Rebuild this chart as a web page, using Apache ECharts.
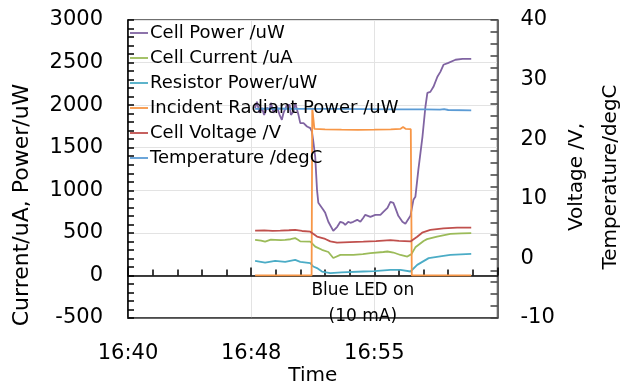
<!DOCTYPE html>
<html>
<head>
<meta charset="UTF-8">
<title>Cell power vs LED</title>
<script src="https://cdn.jsdelivr.net/npm/echarts@6/dist/echarts.min.js"></script>
<style>
  html, body { margin: 0; padding: 0; background: #fff; }
</style>
</head>
<body>
<div id="main" style="width: 622px;height:383px;"></div>
<script type="text/javascript">
// time = minutes after 16:00
var seriesNames = ['Cell Power /uW', 'Cell Current /uA', 'Resistor Power/uW',
  'Incident Radiant Power /uW', 'Cell Voltage /V', 'Temperature /degC'];

var cellPower = [[48.24,1965],[48.35,2040],[48.51,1910],[48.65,1969],[48.79,1886],[48.96,1969],
  [49.12,1945],[49.20,2027],[49.36,1910],[49.57,1984],[49.73,1886],[49.87,1828],[49.97,1910],
  [50.18,2004],[50.34,2004],[50.42,1886],[50.58,1925],[50.68,2024],[50.79,2004],[50.88,1886],
  [50.99,1789],[51.19,1789],[51.40,1749],[51.60,1730],[51.70,1690],[51.78,1581],[51.90,1393],
  [52.01,1005],[52.09,853],[52.21,830],[52.39,771],[52.51,735],[52.70,630],[53.00,524],
  [53.24,571],[53.43,630],[53.61,618],[53.73,594],[53.91,630],[54.04,618],[54.22,630],
  [54.46,653],[54.65,630],[54.83,677],[54.95,712],[55.26,688],[55.56,712],[55.87,712],
  [56.05,747],[56.30,794],[56.48,864],[56.66,853],[56.78,794],[56.96,700],[57.21,630],
  [57.39,606],[57.51,618],[57.70,700],[57.88,888],[58.00,923],[58.18,1240],[58.43,1628],
  [58.61,1981],[58.73,2145],[58.91,2156],[59.10,2215],[59.34,2333],[59.52,2391],[59.71,2474],
  [60.01,2497],[60.44,2533],[60.87,2544],[61.40,2544]];

var cellCurrent = [[48.24,418],[48.6,410],[48.85,398],[49.2,420],[49.46,418],[49.8,415],
  [50.07,418],[50.4,425],[50.68,438],[50.85,420],[50.99,400],[51.60,398],[51.90,339],
  [52.31,301],[52.70,275],[53.00,205],[53.43,242],[54.22,242],[54.8,250],[55.26,262],
  [56.05,275],[56.30,281],[56.66,269],[57.09,240],[57.51,222],[57.76,250],[58.00,330],
  [58.20,360],[58.50,405],[58.71,426],[59.32,457],[60.13,489],[60.80,495],[61.40,497]];

var resistorPower = [[48.24,171],[48.85,150],[49.46,171],[50.07,160],[50.68,183],[50.99,160],
  [51.60,144],[51.78,105],[52.01,86],[52.31,46],[52.82,27],[53.5,35],[54.83,46],[55.5,50],
  [56.48,66],[57.09,66],[57.70,46],[57.76,46],[58.11,124],[58.81,203],[59.71,230],
  [60.13,242],[61.40,254]];

var incidentPower = [[48.24,0],[51.68,0],[51.72,1968],[51.85,1721],[52.5,1715],[53.5,1712],
  [54.5,1710],[55.5,1712],[56.5,1716],[57.1,1722],[57.25,1742],[57.4,1722],[57.72,1718],
  [57.78,0],[61.40,0]];

var cellVoltage = [[48.24,4.65],[48.8,4.7],[49.3,4.62],[49.77,4.65],[50.3,4.72],[50.68,4.8],
  [51.1,4.6],[51.60,4.48],[52.01,3.67],[52.51,3.26],[52.82,2.85],[53.23,2.63],[54.0,2.72],
  [54.83,2.8],[55.6,2.9],[56.48,3.05],[57.0,2.95],[57.70,2.85],[58.11,3.64],[58.41,4.31],
  [58.91,4.77],[59.71,5.05],[60.54,5.15],[61.40,5.18]];

var temperature = [[48.24,25.1],[49.5,25.15],[51.0,25.1],[53.0,25.1],[55.0,25.05],[57.0,25.0],
  [58.5,25.0],[59.5,24.95],[59.75,25.05],[60.0,24.9],[61.40,24.85]];

var colors = ['#8064a2', '#9bbb59', '#4bacc6', '#f79646', '#c0504d', '#5b9bd5'];
var font = 'DejaVu Sans';

function timeLabel(v) {
  var h = 16 + Math.floor(v / 60);
  var m = Math.floor(v % 60);
  return h + ':' + (m < 10 ? '0' + m : m);
}
function plain(v) { return String(v); }

var myChart = echarts.init(document.getElementById('main'));

function lineSeries(i, data, yIdx) {
  return {
    name: seriesNames[i],
    type: 'line',
    yAxisIndex: yIdx,
    data: data,
    showSymbol: false,
    symbol: 'none',
    animation: false,
    lineStyle: { width: 1.8, color: colors[i] },
    itemStyle: { color: colors[i] }
  };
}

var series = [
  lineSeries(0, cellPower, 0),
  lineSeries(1, cellCurrent, 0),
  lineSeries(2, resistorPower, 0),
  lineSeries(3, incidentPower, 0),
  lineSeries(4, cellVoltage, 1),
  lineSeries(5, temperature, 1)
];
// label under the LED pulse
series[3].markPoint = {
  symbol: 'rect',
  symbolSize: 0,
  silent: true,
  label: {
    show: true,
    position: 'inside',
    formatter: 'Blue LED on\n(10 mA)',
    fontFamily: font,
    fontSize: 17,
    lineHeight: 26,
    color: '#000'
  },
  data: [{ coord: [54.8, -335] }]
};

var option = {
  animation: false,
  textStyle: { fontFamily: font },
  grid: {
    left: 128, right: 124.5, top: 20, bottom: 65,
    containLabel: false,
    outerBoundsMode: 'none',
    show: true, borderColor: '#404040', borderWidth: 1.5
  },
  legend: {
    data: seriesNames,
    orient: 'vertical',
    left: 130,
    top: 23,
    padding: 0,
    icon: 'rect',
    itemWidth: 18,
    itemHeight: 1.8,
    itemGap: 5,
    textStyle: { fontFamily: font, fontSize: 18, lineHeight: 20, color: '#000', padding: [0, 0, 0, -3] }
  },
  xAxis: [{
    type: 'value',
    min: 40.5,
    max: 63,
    interval: 7.5,
    position: 'bottom',
    name: 'Time',
    nameLocation: 'middle',
    nameGap: 48,
    nameMoveOverlap: false,
    nameTextStyle: { fontFamily: font, fontSize: 20, color: '#000' },
    axisLine: { onZero: false, lineStyle: { color: '#404040', width: 1.5 } },
    axisTick: { show: false },
    axisLabel: { formatter: timeLabel, showMaxLabel: false, margin: 25,
      fontFamily: font, fontSize: 21, color: '#000' },
    splitLine: { show: true, lineStyle: { color: '#e3e3e3', width: 1 } }
  }, {
    type: 'value',
    min: 40.5,
    max: 63,
    interval: 7.5,
    position: 'bottom',
    axisLine: { onZero: true, onZeroAxisIndex: 0, lineStyle: { color: '#000', width: 1.5 } },
    axisTick: { show: true, inside: true, length: 8, lineStyle: { color: '#000', width: 1.5 } },
    minorTick: { show: true, splitNumber: 5, length: 6, lineStyle: { color: '#000', width: 1.5 } },
    axisLabel: { show: false },
    splitLine: { show: false }
  }],
  yAxis: [{
    type: 'value',
    min: -500,
    max: 3000,
    interval: 500,
    position: 'left',
    name: 'Current/uA, Power/uW',
    nameLocation: 'middle',
    nameGap: 95,
    nameMoveOverlap: false,
    nameTextStyle: { fontFamily: font, fontSize: 22, color: '#000', padding: [0, 72, 0, 0] },
    axisLine: { show: true, lineStyle: { color: '#000', width: 1.5 } },
    axisTick: { inside: true, length: 6, lineStyle: { color: '#000', width: 1.5 } },
    minorTick: { show: true, splitNumber: 5, length: 6, lineStyle: { color: '#000', width: 1.5 } },
    axisLabel: { formatter: plain, margin: 25, fontFamily: font, fontSize: 21, color: '#000' },
    splitLine: { show: true, lineStyle: { color: '#e3e3e3', width: 1 } }
  }, {
    type: 'value',
    min: -10,
    max: 40,
    interval: 10,
    position: 'right',
    name: 'Voltage /V,\nTemperature/degC',
    nameLocation: 'middle',
    nameGap: 62,
    nameMoveOverlap: false,
    nameTextStyle: { fontFamily: font, fontSize: 20, lineHeight: 34, color: '#000', padding: [0, 16, 0, 0] },
    axisLine: { show: true, lineStyle: { color: '#404040', width: 1.5 } },
    axisTick: { inside: true, length: 7, lineStyle: { color: '#404040', width: 1.5 } },
    minorTick: { show: true, splitNumber: 5, length: 7, lineStyle: { color: '#404040', width: 1.5 } },
    axisLabel: { formatter: plain, margin: 23, fontFamily: font, fontSize: 21, color: '#000' },
    splitLine: { show: false }
  }],
  series: series
};

myChart.setOption(option);
</script>
</body>
</html>
